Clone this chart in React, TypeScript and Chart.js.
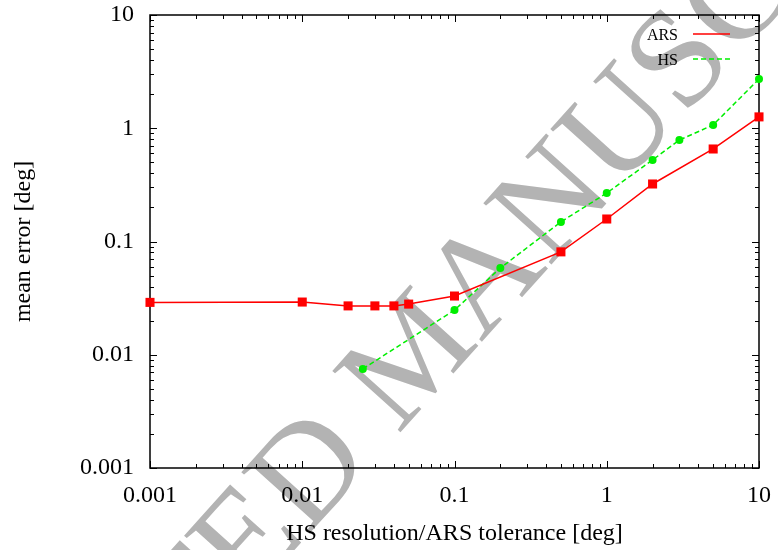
import React, { useEffect, useRef } from 'react';
import { Chart, registerables } from 'chart.js';

Chart.register(...registerables);

const FONT = '"Liberation Serif", "Times New Roman", Times, serif';

const xTickValues = [0.001, 0.01, 0.1, 1, 10];
const xTickLabels = ['0.001', '0.01', '0.1', '1', '10'];
const yTickValues = [0.001, 0.01, 0.1, 1, 10];
const yTickLabels = ['0.001', '0.01', '0.1', '1', '10'];

const xTitle = 'HS resolution/ARS tolerance [deg]';
const yTitle = 'mean error [deg]';
const watermarkText = 'ACCEPTED MANUSCRIPT';

const arsLabel = 'ARS';
const arsX = [0.001, 0.01, 0.02, 0.03, 0.04, 0.05, 0.1, 0.5, 1, 2, 5, 10];
const arsY = [0.029, 0.0292, 0.027, 0.027, 0.027, 0.028, 0.033, 0.081, 0.158, 0.322, 0.656, 1.26];

const hsLabel = 'HS';
const hsX = [0.025, 0.1, 0.2, 0.5, 1, 2, 3, 5, 10];
const hsY = [0.0075, 0.0248, 0.0583, 0.149, 0.268, 0.525, 0.787, 1.07, 2.72];

const minorMultipliers = [2, 3, 4, 5, 6, 7, 8, 9];

function withMinors(majors: number[]) {
  const out: { value: number; major: boolean }[] = [];
  majors.forEach((m, i) => {
    out.push({ value: m, major: true });
    if (i < majors.length - 1) minorMultipliers.forEach((k) => out.push({ value: m * k, major: false }));
  });
  return out;
}

function labelFor(values: number[], labels: string[], v: number) {
  const i = values.findIndex((t) => Math.abs(t - v) / t < 1e-6);
  return i >= 0 ? labels[i] : '';
}

const gnuplotPlugin = {
  id: 'gnuplotLook',
  beforeDraw(chart: any) {
    const ctx = chart.ctx;
    ctx.save();
    const size = 140;
    ctx.font = `${size}px ${FONT}`;
    ctx.fillStyle = '#b3b3b3';
    const pre = ctx.measureText('ACCEPTED ').width;
    const mw = ctx.measureText('M').width;
    ctx.translate(405, 358);
    ctx.rotate((-48 * Math.PI) / 180);
    ctx.textBaseline = 'alphabetic';
    ctx.textAlign = 'left';
    ctx.fillText(watermarkText, -(pre + mw / 2), (size * 0.662) / 2);
    ctx.restore();
  },
  beforeDatasetsDraw(chart: any) {
    const ctx = chart.ctx;
    const { left, right, top, bottom } = chart.chartArea;
    const xs = chart.scales.x;
    const ys = chart.scales.y;
    ctx.save();
    ctx.strokeStyle = '#000';
    ctx.lineWidth = 1;
    ctx.beginPath();
    withMinors(xTickValues).forEach((t) => {
      const px = Math.round(xs.getPixelForValue(t.value)) + 0.5;
      const len = t.major ? 7 : 4;
      ctx.moveTo(px, bottom);
      ctx.lineTo(px, bottom - len);
      ctx.moveTo(px, top);
      ctx.lineTo(px, top + len);
    });
    withMinors(yTickValues).forEach((t) => {
      const py = Math.round(ys.getPixelForValue(t.value)) + 0.5;
      const len = t.major ? 7 : 4;
      ctx.moveTo(left, py);
      ctx.lineTo(left + len, py);
      ctx.moveTo(right, py);
      ctx.lineTo(right - len, py);
    });
    ctx.stroke();
    ctx.lineWidth = 1.5;
    ctx.strokeRect(left, top, right - left, bottom - top);
    ctx.restore();
  },
  afterDraw(chart: any) {
    const ctx = chart.ctx;
    const { left, right, top, bottom } = chart.chartArea;
    ctx.save();
    ctx.fillStyle = '#000';
    ctx.font = `24px ${FONT}`;
    ctx.textAlign = 'center';
    ctx.textBaseline = 'alphabetic';
    ctx.fillText(xTitle, (left + right) / 2, 540);
    ctx.save();
    ctx.translate(30, (top + bottom) / 2);
    ctx.rotate(-Math.PI / 2);
    ctx.fillText(yTitle, 0, 0);
    ctx.restore();

    ctx.font = `16px ${FONT}`;
    ctx.textAlign = 'right';
    const ds = chart.data.datasets;
    const rows = [
      { y: 34, base: 40 },
      { y: 59, base: 65 },
    ];
    ds.forEach((d: any, i: number) => {
      const r = rows[i];
      ctx.fillStyle = '#000';
      ctx.fillText(d.label, 678, r.base);
      ctx.beginPath();
      ctx.strokeStyle = d.borderColor;
      ctx.lineWidth = d.borderWidth;
      ctx.setLineDash(d.borderDash || []);
      ctx.moveTo(693, r.y);
      ctx.lineTo(730, r.y);
      ctx.stroke();
      ctx.setLineDash([]);
    });
    ctx.restore();
  },
};

export default function App() {
  const ref = useRef<HTMLCanvasElement | null>(null);
  useEffect(() => {
    if (!ref.current) return;
    const chart = new Chart(ref.current, {
      type: 'scatter',
      data: {
        datasets: [
          {
            label: arsLabel,
            data: arsX.map((x, i) => ({ x, y: arsY[i] })),
            showLine: true,
            borderColor: '#ff0000',
            backgroundColor: '#ff0000',
            borderWidth: 1.5,
            pointStyle: 'rect',
            pointRadius: 6.4,
            pointBorderWidth: 0,
            clip: false,
          } as any,
          {
            label: hsLabel,
            data: hsX.map((x, i) => ({ x, y: hsY[i] })),
            showLine: true,
            borderColor: '#00ee00',
            backgroundColor: '#00ee00',
            borderWidth: 1.5,
            borderDash: [5, 3],
            pointStyle: 'circle',
            pointRadius: 4,
            pointBorderWidth: 0,
            clip: false,
          } as any,
        ],
      },
      options: {
        responsive: false,
        animation: false,
        devicePixelRatio: 1,
        layout: { padding: { left: 0, top: 15, right: 19, bottom: 0 } },
        plugins: { legend: { display: false }, tooltip: { enabled: false } },
        scales: {
          x: {
            type: 'logarithmic',
            min: 0.001,
            max: 10,
            grid: { display: false, drawTicks: false },
            border: { display: false },
            afterBuildTicks: (s: any) => {
              s.ticks = xTickValues.map((v) => ({ value: v }));
            },
            afterFit: (s: any) => {
              s.height = 82;
              s.paddingLeft = 0;
              s.paddingRight = 0;
              s.paddingTop = 0;
              s.paddingBottom = 0;
            },
            ticks: {
              autoSkip: false,
              maxRotation: 0,
              padding: 13,
              color: '#000',
              font: { family: FONT, size: 24 },
              callback: (v: any) => labelFor(xTickValues, xTickLabels, Number(v)),
            },
          },
          y: {
            type: 'logarithmic',
            min: 0.001,
            max: 10,
            grid: { display: false, drawTicks: false },
            border: { display: false },
            afterBuildTicks: (s: any) => {
              s.ticks = yTickValues.map((v) => ({ value: v }));
            },
            afterFit: (s: any) => {
              s.width = 150;
              s.paddingLeft = 0;
              s.paddingRight = 0;
              s.paddingTop = 0;
              s.paddingBottom = 0;
            },
            ticks: {
              autoSkip: false,
              padding: 16,
              color: '#000',
              font: { family: FONT, size: 24 },
              callback: (v: any) => labelFor(yTickValues, yTickLabels, Number(v)),
            },
          },
        },
      } as any,
      plugins: [gnuplotPlugin],
    });
    return () => {
      chart.destroy();
    };
  }, []);
  return (
    <div style={{ position: 'absolute', left: 0, top: 0, width: 778, height: 550, background: '#fff' }}>
      <canvas ref={ref} width={778} height={550} style={{ display: 'block' }} />
    </div>
  );
}
